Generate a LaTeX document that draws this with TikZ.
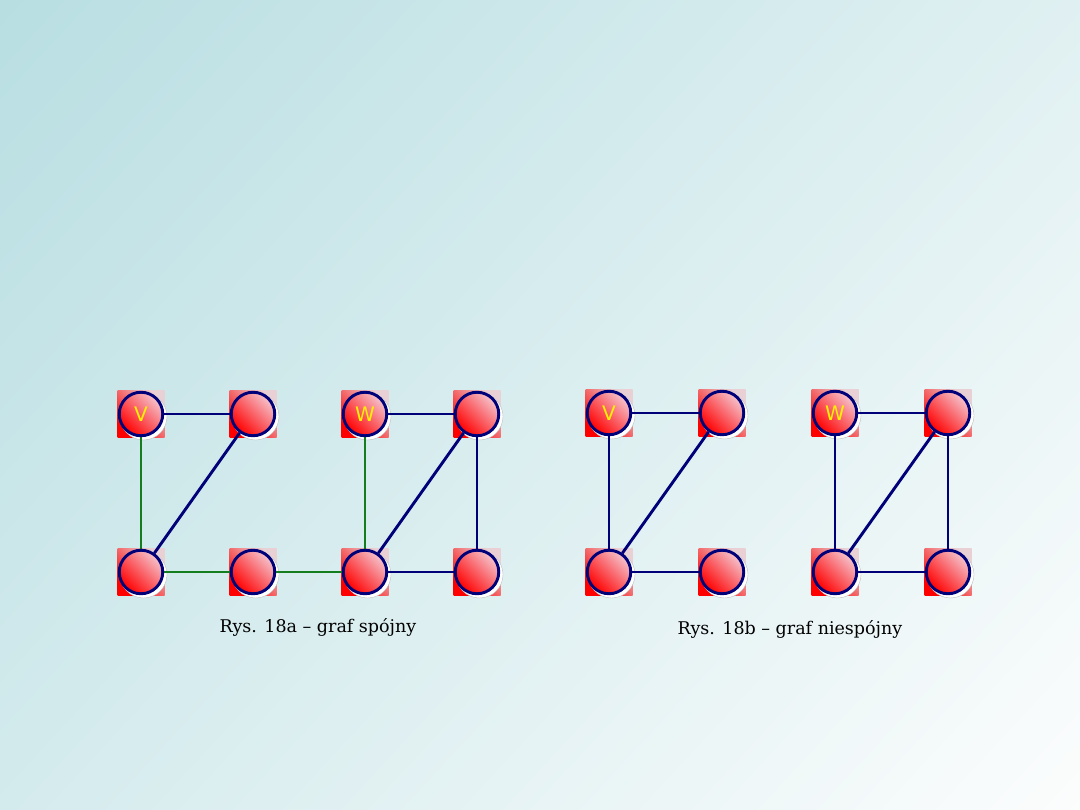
\documentclass[tikz,border=0pt]{standalone}
\usepackage{fontspec}
\setmainfont{DejaVu Serif}
\newfontfamily\labfont{DejaVu Sans}
\pgfdeclarelayer{bg}
\pgfdeclarelayer{squares}
\pgfdeclarelayer{edges}
\pgfsetlayers{bg,squares,edges,main}
\pgfdeclarefunctionalshading{bgsh}{\pgfpoint{0pt}{0pt}}{\pgfpoint{1080pt}{810pt}}{}{
  0.000508 mul neg 0.41 add exch 0.000548 mul add
  dup 0.266 mul 0.722 add exch
  dup 0.121 mul 0.871 add exch
  0.106 mul 0.886 add
}
\definecolor{navy}{RGB}{0,0,120}
\definecolor{gedge}{RGB}{20,125,30}
\definecolor{pinkA}{RGB}{245,195,205}
\definecolor{pinkB}{RGB}{232,208,212}
\tikzset{
  vert/.style={circle, inner sep=0pt, minimum size=43.5pt, draw=navy, line width=2.9pt,
    left color=red, middle color=red, right color=pinkA, shading angle=135,
    font=\labfont\fontsize{20}{20}\selectfont, text=yellow},
  sq/.style={left color=red, middle color=red!95!pinkB, right color=pinkB, shading angle=135},
  shadowc/.style={fill=white, draw=black!25, line width=0.4pt},
  ed/.style={draw=navy, line width=2.9pt},
  ge/.style={draw=gedge, line width=2.9pt},
  captext/.style={font=\fontsize{17.5}{20}\selectfont, text=black}
}
\begin{document}
\begin{tikzpicture}[x=1pt,y=-1pt]
\begin{pgfonlayer}{bg}
\node[inner sep=0pt, outer sep=0pt, anchor=north west] (bgnode) at (0,0) {\pgfuseshading{bgsh}};
\end{pgfonlayer}
\useasboundingbox (0,0) rectangle (1080,810);
% left graph
\node[vert] (a1) at (141,414) {V};
\node[vert] (a2) at (253,414) {};
\node[vert] (a3) at (365,414) {W};
\node[vert] (a4) at (477,414) {};
\node[vert] (a5) at (141,572) {};
\node[vert] (a6) at (253,572) {};
\node[vert] (a7) at (365,572) {};
\node[vert] (a8) at (477,572) {};
% right graph
\node[vert] (b1) at (609,413) {V};
\node[vert] (b2) at (722,413) {};
\node[vert] (b3) at (835,413) {W};
\node[vert] (b4) at (948,413) {};
\node[vert] (b5) at (609,572) {};
\node[vert] (b6) at (722,572) {};
\node[vert] (b7) at (835,572) {};
\node[vert] (b8) at (948,572) {};
\begin{pgfonlayer}{squares}
\foreach \n in {a1,a2,a3,a4,a5,a6,a7,a8,b1,b2,b3,b4,b5,b6,b7,b8}{
  \shade[sq] ([shift={(-23.5,-23.5)}]\n.center) rectangle ([shift={(23.5,23.5)}]\n.center);
  \draw[shadowc] ([shift={(2.5,2.5)}]\n.center) circle (23.5);
}
\end{pgfonlayer}
\begin{pgfonlayer}{edges}
\draw[ed] (a1) -- (a2);
\draw[ge] (a1) -- (a5);
\draw[ed] (a2) -- (a5);
\draw[ge] (a5) -- (a6);
\draw[ge] (a6) -- (a7);
\draw[ed] (a3) -- (a4);
\draw[ge] (a3) -- (a7);
\draw[ed] (a4) -- (a7);
\draw[ed] (a4) -- (a8);
\draw[ed] (a7) -- (a8);
\draw[ed] (b1) -- (b2);
\draw[ed] (b1) -- (b5);
\draw[ed] (b2) -- (b5);
\draw[ed] (b5) -- (b6);
\draw[ed] (b3) -- (b4);
\draw[ed] (b3) -- (b7);
\draw[ed] (b4) -- (b7);
\draw[ed] (b4) -- (b8);
\draw[ed] (b7) -- (b8);
\end{pgfonlayer}
\node[captext] (c1) at (318,627) {Rys. 18a – graf spójny};
\node[captext] (c2) at (790,629) {Rys. 18b – graf niespójny};
\end{tikzpicture}
\end{document}
